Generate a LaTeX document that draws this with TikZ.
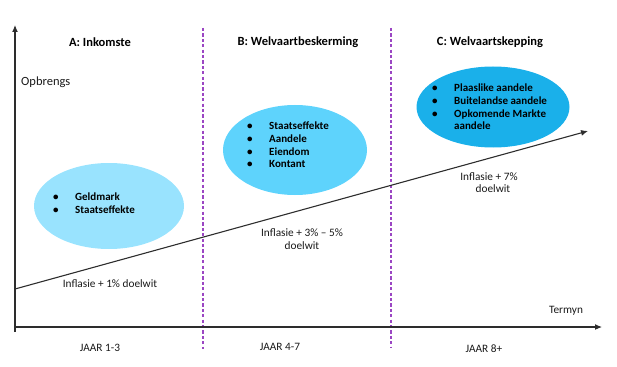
\documentclass[tikz,border=0pt]{standalone}
\usepackage{fontspec}
\setmainfont{Carlito}
\usetikzlibrary{arrows.meta,shapes.geometric}
\definecolor{ellA}{RGB}{153,227,254}
\definecolor{ellB}{RGB}{94,211,252}
\definecolor{ellC}{RGB}{26,176,234}
\definecolor{divpurple}{RGB}{155,70,195}
\definecolor{axisgray}{RGB}{45,45,45}
\newcommand{\bul}{\makebox[23pt][l]{\hspace{1pt}\textbullet}}
\tikzset{
  blob/.style={ellipse, draw=none, inner sep=0pt},
  header/.style={font=\fontsize{12.5}{14}\selectfont\bfseries, text=black},
  lbl/.style={font=\fontsize{11.3}{12.5}\selectfont, text=black!90, align=center, inner sep=0pt},
  items/.style={font=\fontsize{11}{12.7}\selectfont\bfseries, text=black, align=left, anchor=west, inner sep=0pt},
  axis/.style={draw=axisgray, line width=1.1pt, -{Latex[length=7pt,width=6pt]}},
  divider/.style={draw=divpurple, line width=1.1pt, dash pattern=on 3.2pt off 2.2pt}
}
\begin{document}
\begin{tikzpicture}[x=1pt,y=-1pt]
\useasboundingbox (0,0) rectangle (617,366);
% coordinates
\coordinate (ybot) at (15,332);
\coordinate (ytop) at (15,25);
\coordinate (xl) at (14,327);
\coordinate (xr) at (602,327);
\coordinate (d1t) at (203,28);
\coordinate (d1b) at (203,349);
\coordinate (d2t) at (391,28);
\coordinate (d2b) at (391,347);
\coordinate (ts) at (15,289);
\coordinate (te) at (588,131);
% ellipses
\node[blob, fill=ellA, minimum width=150pt, minimum height=86pt] (eA) at (109,206) {};
\node[blob, fill=ellB, minimum width=144pt, minimum height=90pt] (eB) at (295,150) {};
\node[blob, fill=ellC, minimum width=153pt, minimum height=81pt] (eC) at (493,107) {};
% dividers
\draw[divider] (d1t) -- (d1b);
\draw[divider] (d2t) -- (d2b);
% axes
\draw[axis] (ybot) -- (ytop);
\draw[axis] (xl) -- (xr);
% trend
\draw[axis] (ts) -- (te);
% headers
\node[header] (hA) at (100,42) {A: Inkomste};
\node[header] (hB) at (298,42) {B: Welvaartbeskerming};
\node[header] (hC) at (490,42) {C: Welvaartskepping};
% axis labels
\node[lbl, font=\fontsize{12.5}{14}\selectfont, anchor=west] (opb) at (21,82) {Opbrengs};
\node[lbl] (term) at (566,311) {Termyn};
\node[lbl] (j1) at (100,348) {JAAR 1-3};
\node[lbl] (j2) at (280,347) {JAAR 4-7};
\node[lbl] (j3) at (484,349) {JAAR 8+};
% trend labels
\node[lbl] (i1) at (110,284) {Inflasie + 1\% doelwit};
\node[lbl] (i2) at (302,239) {Inflasie + 3\% – 5\%\\doelwit};
\node[lbl] (i3) at (489,182.5) {Inflasie + 7\%\\\hspace{8pt}doelwit};
% lists
\node[items] (lA) at (52,203) {\bul Geldmark\\\bul Staatseffekte};
\node[items] (lB) at (246,145) {\bul Staatseffekte\\\bul Aandele\\\bul Eiendom\\\bul Kontant};
\node[items] (lC) at (431,107) {\bul Plaaslike aandele\\\bul Buitelandse aandele\\\bul Opkomende Markte\\\hspace*{23pt}aandele};
\end{tikzpicture}
\end{document}
